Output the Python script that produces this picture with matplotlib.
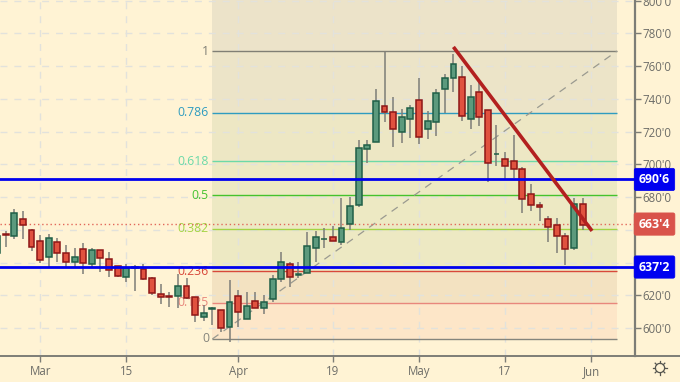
import matplotlib
matplotlib.use("Agg")
import matplotlib.pyplot as plt
from matplotlib.lines import Line2D
from matplotlib.patches import FancyBboxPatch
import numpy as np

first_index = -1
opens = [645.8,657.3,656.4,666.6,660.1,653,643.6,652.4,645.6,640.5,648.1,638.9,647.5,642,637.7,631,636.9,635.9,630.6,621,619.6,619.6,625.8,618.8,606.9,611.6,610.8,600.8,619.7,605.7,616.7,612.4,617.9,629.8,639.3,632.4,633.8,649.1,654.2,655.4,652.7,663.4,675.2,709.2,713.8,735.8,732.2,719.9,727.5,739.5,721.8,726,745.8,752.6,753.2,727.5,744.2,733,706.1,703.3,702.2,697.3,681.7,675.2,666.6,662.9,656.4,649,675.6]
closes = [656.4,656.7,670.3,662.9,649.7,641.5,654.8,646,640.5,643.2,639.9,647.5,643,635.3,631.6,636.7,637.3,629.8,621.4,618.9,619.2,625.8,618.5,608.1,609.2,612,599.8,615.7,610,613.3,612.4,615.7,629.9,640.1,631,632.8,649.9,655.4,654.6,653.2,660.9,674.5,710,711.8,738.9,732.2,721.8,728.7,734.2,716.9,726.3,743.6,752.6,761.1,729.7,741.3,729.1,701,706.5,699,697.3,678.6,675,673.7,661.7,656.4,648.1,675.6,662.9]
highs = [659.9,659.3,672.7,671.7,660.5,656.6,657.4,654.8,650.7,648.7,651.8,648.7,647.8,646.4,638,639.1,638.5,639.1,631,626.7,622.2,633,630.4,619,614.1,612.6,611,629.1,623.2,622.2,622.2,620.2,632.4,646.4,640.5,640.3,658.7,659.1,660.9,662.5,679.2,679.9,714.9,714.9,745.8,768.8,741,733.6,736.3,752.9,732.6,745.8,755.2,767.4,760.1,748.5,750.5,733.2,724,707.4,717.7,698.6,687.8,676.8,668.6,667.4,657.9,679.2,679.2]
lows = [644,649.5,654.4,654.4,647.2,639.5,637.1,640.5,637.5,636.5,632.8,637.1,634,631.3,631,627.9,622.8,629.1,620.2,614.7,613,612,617.7,603.8,604.5,601.8,597.7,591.6,600.8,605.5,612.2,608.6,616.1,627.9,625.2,630.4,633.6,640.3,649.1,653,650.7,659.9,673.7,700.6,713.6,726,710.8,713.2,716.3,712.4,715.7,717.3,731.2,744.4,726.7,721.6,723.4,689.4,699,690.4,691.5,670.4,671.7,665.4,652.7,646,638.5,647.7,659.9]

y_ticks = [600,620,640,660,680,700,720,740,760,780,800]
y_tick_labels = ["600'0","620'0","640'0","660'0","680'0","700'0","720'0","740'0","760'0","780'0","800'0"]
x_ticks = [4,14,27,38,48,58,68]
x_tick_labels = ["Mar","15","Apr","19","May","17","Jun"]

fib_start, fib_end = 24, 71
fib_low, fib_high = 593.3, 769.2
fib_ratios = [0,0.125,0.236,0.382,0.5,0.618,0.786,1]
fib_names = ["0","0.125","0.236","0.382","0.5","0.618","0.786","1"]
fib_colors = ["#85857c","#e8877c","#d8483a","#a4d444","#45c22e","#6cd9a8","#2f9cc0","#807f75"]
fib_bands = ["#fde6c8","#f3e2c1","#ede9c3","#ede9c3","#ede9c3","#ede7c4","#ece4c8"]
fib_top_band = "#ece3c9"

support, resistance, last_price = 637.25, 690.75, 663.5
trend_x = [52, 68.1]
trend_y = [771.7, 659.3]

BG = "#fff3d4"
plt.rcParams['font.family'] = ['Open Sans','DejaVu Sans']
fig = plt.figure(figsize=(6.8,3.82), dpi=100, facecolor=BG)
ax = fig.add_axes([0,(382-356)/382,634.5/680,356/382], facecolor=BG)
ax.set_xlim(-0.662,73.03)
ax.set_ylim(582.9,800.37)
ax.set_axisbelow(True)

levels = [fib_low+(fib_high-fib_low)*r for r in fib_ratios]
for k in range(len(levels)-1):
    ax.fill_between([fib_start,fib_end],levels[k],levels[k+1],color=fib_bands[k],lw=0,zorder=0.2)
ax.fill_between([fib_start,fib_end],levels[-1],800.37,color=fib_top_band,lw=0,zorder=0.2)

ax.grid(True,color="#e2e2dc",lw=1,ls=(0,(5,5)),zorder=0.5)
for lv,name,col in zip(levels,fib_names,fib_colors):
    ax.hlines(lv,fib_start,fib_end,color=col,lw=1.0,zorder=1)
    ax.text(fib_start-0.4,lv,name,color=col,fontsize=8.8,ha='right',va='center',zorder=1.2)
ax.plot([fib_start,fib_end],[fib_low,fib_high],color="#9a9a90",lw=0.9,ls=(0,(6,5)),zorder=1)

x = np.arange(len(opens))+first_index
opens_a,closes_a = np.array(opens),np.array(closes)
up = closes_a>=opens_a
ax.vlines(x,lows,highs,color="#7d7d78",lw=1.1,zorder=2)
bottom = np.minimum(opens_a,closes_a)
height = np.abs(closes_a-opens_a)
ax.bar(x[up],height[up],0.68,bottom[up],color="#5c9a7d",edgecolor="#1f5f47",lw=1.1,zorder=3)
ax.bar(x[~up],height[~up],0.68,bottom[~up],color="#e0523f",edgecolor="#8e1616",lw=1.1,zorder=3)

ax.axhline(last_price,color="#e2675a",lw=1,ls=(0,(1,2)),zorder=2.5)
ax.axhline(resistance,color="#0000ee",lw=2,zorder=4)
ax.axhline(support,color="#0000ee",lw=2,zorder=4)
ax.plot(trend_x,trend_y,color="#b3201f",lw=2.6,zorder=5,solid_capstyle='butt')

for s in ['top','left']:
    ax.spines[s].set_visible(False)
ax.spines['right'].set_color("#7d7d76"); ax.spines['right'].set_linewidth(1.6)
ax.spines['bottom'].set_color("#7d7d76"); ax.spines['bottom'].set_linewidth(1.4)
ax.yaxis.tick_right()
ax.set_yticks(y_ticks,y_tick_labels)
ax.set_xticks(x_ticks,x_tick_labels)
ax.tick_params(axis='y',colors="#7d7d76",labelcolor="#6d6d68",labelsize=8.3,length=4,width=1,pad=1.5)
ax.tick_params(axis='x',colors="#7d7d76",labelcolor="#6d6d68",labelsize=8.3,length=4,width=1,pad=2.5)
fig.add_artist(Line2D([634.5/680,1],[26/382,26/382],color="#7d7d76",lw=1.4))

for val,txt,col in [(resistance,"690'6","#0000f0"),(support,"637'2","#0000f0"),(last_price,"663'4","#d9534a")]:
    ax.annotate(txt,xy=(1,val),xycoords=ax.get_yaxis_transform(),xytext=(20,0),textcoords='offset pixels',
                color="white",fontsize=8.8,fontweight='bold',ha='center',va='center',zorder=6,annotation_clip=False,
                bbox=dict(boxstyle="round,pad=0.38,rounding_size=0.15",fc=col,ec=col,lw=0.5))

# settings gear icon in the bottom-right corner
cx,cy = 660/680,(382-368)/382
ax_icon = fig.add_axes([cx-10/680,cy-10/382,20/680,20/382]); ax_icon.axis('off')
ax_icon.set_xlim(-10,10); ax_icon.set_ylim(-10,10)
th = np.linspace(0,2*np.pi,80)
ax_icon.plot(4.6*np.cos(th),4.6*np.sin(th),color="#55554f",lw=0.9)
for a in np.arange(8)*np.pi/4:
    ax_icon.plot([4.6*np.cos(a),6.8*np.cos(a)],[4.6*np.sin(a),6.8*np.sin(a)],color="#55554f",lw=0.9)

fig.savefig("out.png",dpi=100,facecolor=BG)
